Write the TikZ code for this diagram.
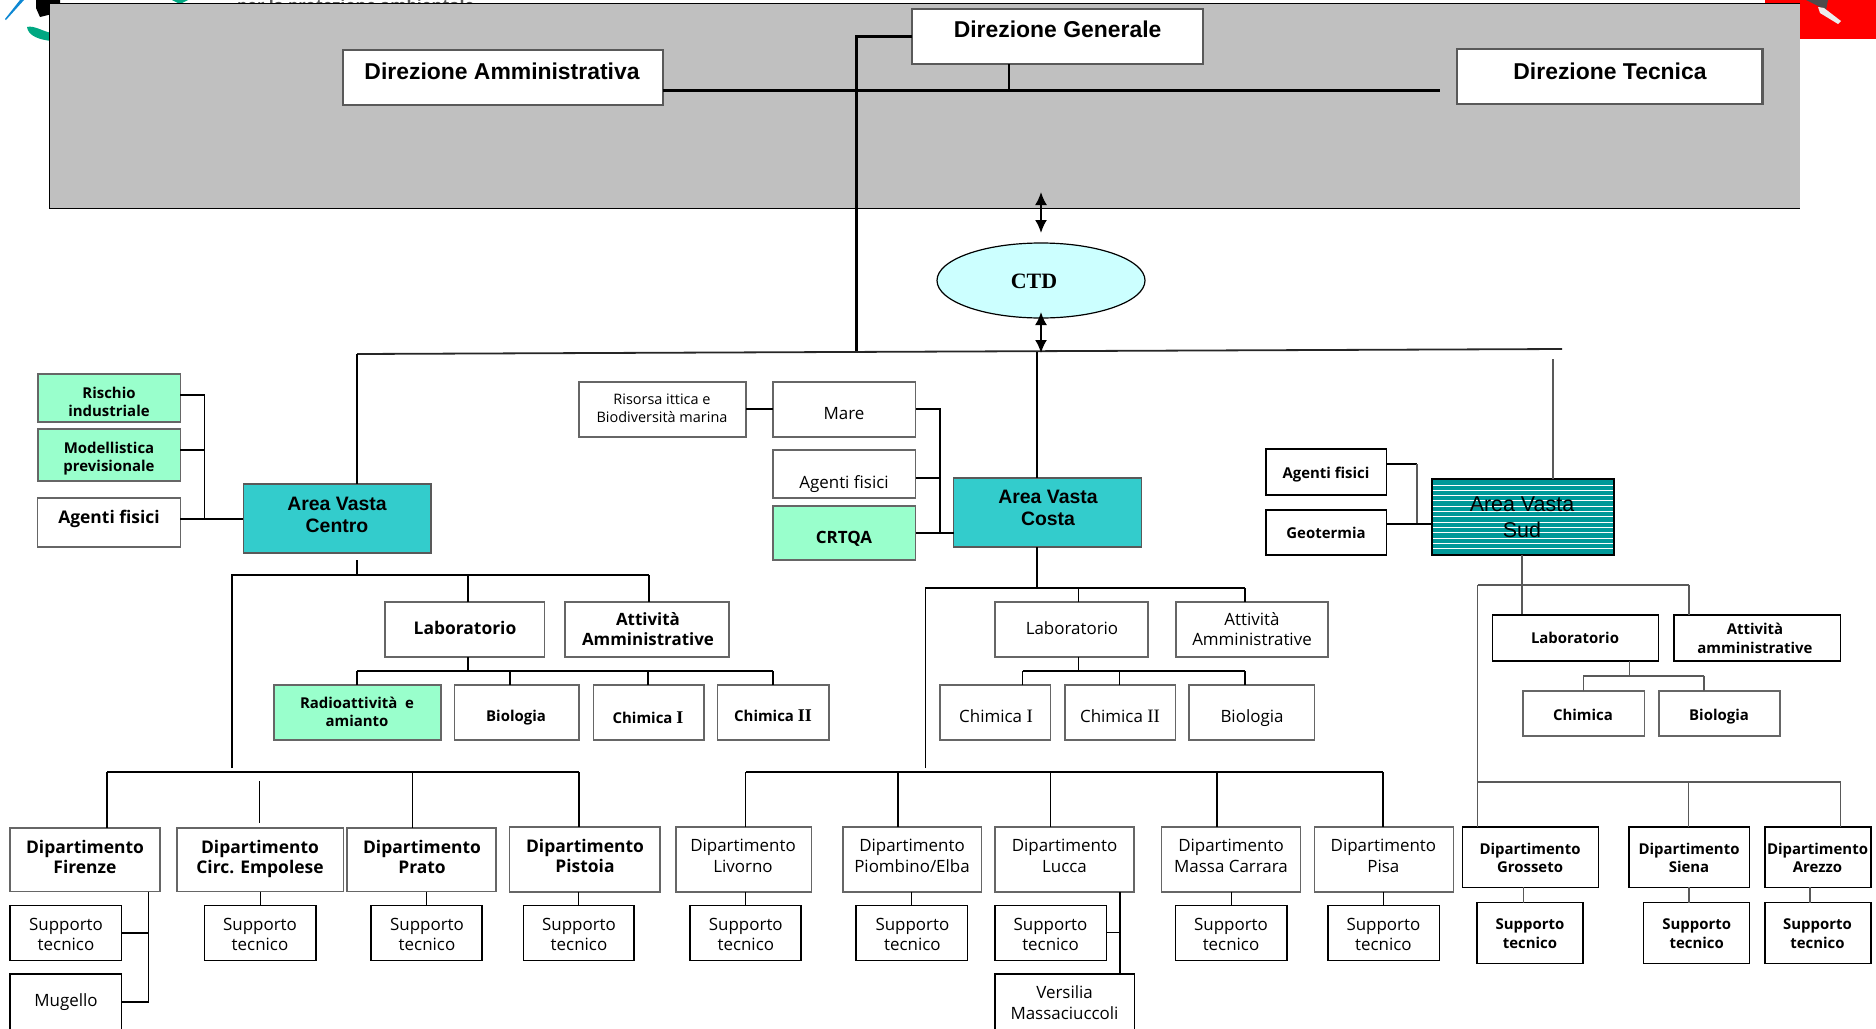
\documentclass[tikz,border=0pt]{standalone}
\usepackage{fontspec}
\usetikzlibrary{arrows.meta,shapes.geometric}
\setmainfont{Open Sans}
\newfontfamily\arfont{Liberation Sans}
\newfontfamily\sefont{Liberation Serif}
\newcommand\Fz[2]{\fontsize{#1}{#2}\selectfont}
\newcommand\Cells[1]{\raisebox{\dimexpr-0.58em+0.2\baselineskip\relax}{\begin{tabular}[c]{@{}c@{}}#1\end{tabular}}}
\newcommand\Tb[3]{{\Fz{#1}{#2}\bfseries\Cells{#3}}}
\newcommand\Tr[3]{{\Fz{#1}{#2}\mdseries\Cells{#3}}}
\newcommand\Ab[3]{{\arfont\Fz{#1}{#2}\bfseries\Cells{#3}}}
\newcommand\Ar[3]{{\arfont\Fz{#1}{#2}\mdseries\Cells{#3}}}
% \bx{name}{x1}{y1}{x2}{y2}{style}{text x}{text y}{text}
\newcommand\bx[9]{%
  \pgfmathsetmacro\bxdx{2*(#7-(#2+#4)/2)}%
  \pgfmathsetmacro\bxdy{(#3+#5)/2-#8}%
  \node[#6,minimum width={(#4-#2)*1bp},minimum height={(#5-#3)*1bp}] (#1) at ({(#2+#4)/2},{(#3+#5)/2})
  {\raisebox{\bxdy bp}[0pt][0pt]{\makebox[0pt]{\hspace*{\bxdx bp}#9}}};%
}
\definecolor{bord}{HTML}{666666}
\definecolor{bordd}{HTML}{595959}
\definecolor{green1}{HTML}{99FFCC}
\definecolor{teal1}{HTML}{33CCCC}
\definecolor{teal2}{HTML}{009999}
\definecolor{panel}{HTML}{C0C0C0}
\definecolor{ctdc}{HTML}{CCFFFF}
\tikzset{
  base/.style={inner sep=0pt,outer sep=0pt,text=black},
  topbox/.style={base,draw=bordd,line width=2.6bp,fill=white},
  gbox/.style={base,draw=bord,line width=1.3bp,fill=white},
  gfill/.style={base,draw=bord,line width=1.5bp,fill=green1},
  kbox/.style={base,draw=black,line width=1.2bp,fill=white},
  area/.style={base,draw=bordd,line width=1.8bp,fill=teal1},
  cn/.style={draw=black,line width=1.3bp},
  cnt/.style={draw=black,line width=3bp},
  cnm/.style={draw=black,line width=1.8bp},
  cng/.style={draw=bordd,line width=1.1bp},
  cngb/.style={draw=bordd,line width=1.6bp},
  arr/.style={draw=black,line width=2bp,{Latex[length=13bp,width=12bp]}-{Latex[length=13bp,width=12bp]}},
}
\begin{document}
\begin{tikzpicture}[x=1bp,y=-1bp]
\useasboundingbox (0,0) rectangle (1876,1028);
\clip (0,0) rectangle (1876,1028);
% cropped logos behind the panel
\fill[red] (1765,0) rectangle (1876,39);
\fill[black!70] (1806,0) -- (1828,0) -- (1826,10) -- (1816,5) -- cycle;
\fill[white!85!gray] (1818,7) -- (1824,8) -- (1841,21) -- (1838,24) -- (1820,13) -- cycle;
\fill[cyan!70!blue] (20,0) -- (24,0) -- (6,20) -- (5,19) -- cycle;
\fill[black] (36,0) -- (60,0) -- (60,12) -- (40,17) -- (36,8) -- cycle;
\fill[teal2!85!green] (27,27) .. controls (34,25) and (44,32) .. (52,33) -- (52,41) .. controls (40,40) and (28,36) .. (27,27) -- cycle;
\fill[teal2!85!green] (172,0) -- (188,0) -- (180,4) -- cycle;
\node[base,anchor=base west,text=bordd,inner sep=0pt] (logotext) at (237,11) {\Fz{16.5}{18}\bfseries per la protezione ambientale};
% grey panel
\node[base,fill=panel,minimum width=1750bp,minimum height=204.7bp] (pan) at (925,105.7) {};
\draw[draw=black,line width=1bp] (pan.north east) -- (pan.north west) -- (pan.south west) -- (pan.south east);
% direzione
\bx{da}{343}{50}{663}{105}{topbox}{502}{72}{\Ab{23}{26}{Direzione Amministrativa}}
\bx{dg}{912}{9}{1203}{64}{topbox}{1057.6}{30}{\Ab{23}{26}{Direzione Generale}}
\bx{dt}{1457}{49}{1762.5}{104}{topbox}{1610}{72}{\Ab{23}{26}{Direzione Tecnica}}
\coordinate (hbusr) at (1440,90.7);
\coordinate (dgj) at (1008.6,90.7);
\coordinate (dgl) at (856,36);
\coordinate (topj) at (856,352);
\draw[cnt] (da.east |- hbusr) -- (hbusr);
\draw[cnm] (dgj) -- (dgj |- dg.south);
\draw[cnt] (dg.west |- dgl) -- (dgl) -- (topj);
% CTD
\node[ellipse,draw=black,line width=1.2bp,fill=ctdc,inner sep=0pt,outer sep=0pt,minimum width=208bp,minimum height=75bp] (ctd) at (1041,280.5) {\raisebox{-8bp}[0pt][0pt]{\makebox[0pt]{\hspace*{-14bp}\sefont\Fz{22}{24}\bfseries CTD}}};
\coordinate (a1) at (1041,192);
\coordinate (a2) at (1041,233);
\coordinate (a3) at (1041,312);
\coordinate (a4) at (1041,353);
\draw[arr] (a1) -- (a2);
% main bus
\coordinate (busL) at (357,354);
\coordinate (busR) at (1562,349);
\coordinate (cj) at (1037,352);
\coordinate (sj) at (1553,359);
\draw[cnm,draw=black!85] (busL) -- (busR);
\draw[arr] (a3) -- (a4);
% Area Vasta Centro
\bx{avc}{243.4}{484}{431}{553}{area}{337}{515}{\Ab{19.5}{22}{Area Vasta\\Centro}}
\bx{ri}{37.8}{374}{180.4}{422}{gfill}{109}{402}{\Tb{15}{18}{Rischio\\industriale}}
\bx{mo}{37.8}{429}{180.4}{481}{gfill}{109}{457}{\Tb{15}{18}{Modellistica\\previsionale}}
\bx{af}{37.8}{498}{180.4}{547}{gbox}{109}{518}{\Tb{17.5}{20}{Agenti fisici}}
\draw[cn] (busL) -- (busL |- avc.north);
\coordinate (cvl) at (204.4,395);
\coordinate (cvm) at (204.4,450);
\coordinate (cvb) at (204.4,519);
\draw[cn] (ri.east |- cvl) -- (cvl) -- (cvb);
\draw[cn] (mo.east |- cvm) -- (cvm);
\draw[cn] (af.east |- cvb) -- (avc.west |- cvb);
% Centro tree
\coordinate (t1) at (357,560);
\coordinate (t2) at (357,575);
\coordinate (t3) at (232,575);
\coordinate (t4) at (232,768);
\coordinate (t5) at (649,575);
\coordinate (t6) at (468,575);
\draw[cn] (t1) -- (t2);
\draw[cn] (t4) -- (t3) -- (t5);
\bx{lc}{385}{602}{544.5}{657}{gbox}{465}{629}{\Tb{17.5}{20}{Laboratorio}}
\bx{ac}{565}{602}{729}{657}{gbox}{648}{630}{\Tb{17}{20}{Attività\\Amministrative}}
\draw[cn] (t6) -- (t6 |- lc.north);
\draw[cn] (t5) -- (t5 |- ac.north);
\coordinate (l1) at (468,671);
\coordinate (l2) at (357,671);
\coordinate (l3) at (510,671);
\coordinate (l4) at (648,671);
\coordinate (l5) at (773,671);
\draw[cn] (l1 |- lc.south) -- (l1);
\draw[cn] (l2) -- (l5);
\bx{rc}{274}{685}{441}{740}{gfill}{357}{712}{\Tb{15}{18}{Radioattività~ e\\amianto}}
\bx{bc}{454.4}{685}{579}{740}{gbox}{516}{716}{\Tb{15}{18}{Biologia}}
\bx{c1}{593.5}{685}{704}{740}{gbox}{648}{718}{\Tb{15}{18}{Chimica {\sefont\fontsize{18}{18}\selectfont I}}}
\bx{c2}{717.6}{685}{829}{740}{gbox}{773}{716}{\Tb{15}{18}{Chimica {\sefont\fontsize{18}{18}\selectfont II}}}
\draw[cn] (l2) -- (l2 |- rc.north);
\draw[cn] (l3) -- (l3 |- bc.north);
\draw[cn] (l4) -- (l4 |- c1.north);
\draw[cn] (l5) -- (l5 |- c2.north);
% Costa side boxes
\bx{ri2}{579}{382}{746}{437}{gbox}{662}{409}{\Tr{14.5}{18}{Risorsa ittica e\\Biodiversità marina}}
\bx{ma}{773}{382}{915.5}{437}{gbox}{844}{414}{\Tr{17}{20}{Mare}}
\bx{af2}{773}{450}{915.5}{498}{gbox}{844}{483}{\Tr{17}{20}{Agenti fisici}}
\bx{cr}{773}{506}{915.5}{560}{gfill}{844}{538}{\Tb{17}{20}{CRTQA}}
\bx{avo}{953.5}{478}{1141.5}{547}{area}{1048}{508}{\Ab{19.5}{22}{Area Vasta\\Costa}}
\draw[cn] (cj) -- (cj |- avo.north);
\coordinate (mv1) at (940,409);
\coordinate (mv2) at (940,478);
\coordinate (mv3) at (940,533);
\draw[cn] (ri2.east |- mv1) -- (ma.west |- mv1);
\draw[cn] (ma.east |- mv1) -- (mv1) -- (mv3);
\draw[cn] (af2.east |- mv2) -- (mv2);
\draw[cn] (cr.east |- mv3) -- (avo.west |- mv3);
% Costa tree
\coordinate (o1) at (1037,588);
\coordinate (o2) at (925.5,588);
\coordinate (o3) at (925.5,768);
\coordinate (o4) at (1245,588);
\coordinate (o5) at (1078.6,588);
\draw[cn] (o1 |- avo.south) -- (o1);
\draw[cn] (o3) -- (o2) -- (o4);
\bx{lo}{995}{602}{1148}{657}{gbox}{1072}{629}{\Tr{17}{20}{Laboratorio}}
\bx{ao}{1176}{602}{1328}{657}{gbox}{1252}{630}{\Tr{17}{20}{Attività\\Amministrative}}
\draw[cn] (o5) -- (o5 |- lo.north);
\draw[cn] (o4) -- (o4 |- ao.north);
\coordinate (p1) at (1078.6,671);
\coordinate (p2) at (1022.6,671);
\coordinate (p3) at (1119.7,671);
\coordinate (p4) at (1245,671);
\draw[cn] (p1 |- lo.south) -- (p1);
\draw[cn] (p2) -- (p4);
\bx{o1b}{940}{685}{1050.6}{740}{gbox}{996}{717}{\Tr{17}{20}{Chimica {\sefont\fontsize{19}{20}\selectfont I}}}
\bx{o2b}{1065}{685}{1175.7}{740}{gbox}{1120}{717}{\Tr{17}{20}{Chimica {\sefont\fontsize{19}{20}\selectfont II}}}
\bx{o3b}{1189}{685}{1314.5}{740}{gbox}{1252}{717}{\Tr{17}{20}{Biologia}}
\draw[cn] (p2) -- (p2 |- o1b.north);
\draw[cn] (p3) -- (p3 |- o2b.north);
\draw[cn] (p4) -- (p4 |- o3b.north);
% Sud side
\bx{af3}{1266}{449}{1386.7}{495}{kbox}{1326}{473}{\Tb{15}{18}{Agenti fisici}}
\bx{ge}{1266}{510}{1386.7}{555}{kbox}{1326}{533}{\Tb{15}{18}{Geotermia}}
\bx{avs}{1432}{479}{1614}{555}{base,draw=black,line width=2.8bp,fill=teal2,path picture={\foreach \yy in {-32,-26.7,-21.4,-16.1,-10.8,-5.5,-0.2,5.1,10.4,15.7,21,26.3,31.6}{\draw[white,line width=1bp] (path picture bounding box.west) ++(0,\yy) -- ++(200,0);}}}{1522}{517}{\Ar{21.5}{26}{Area Vasta\\Sud}}
\draw[cng] (sj) -- (sj |- avs.north);
\coordinate (gv1) at (1417,464);
\coordinate (gv2) at (1417,524);
\draw[cnm] (af3.east |- gv1) -- (gv1);
\draw[cng] (gv1) -- (gv2);
\draw[cnm] (ge.east |- gv2) -- (avs.west |- gv2);
% Sud tree
\coordinate (s1) at (1522,585);
\coordinate (s2) at (1477.5,585);
\coordinate (s3) at (1689,585);
\draw[cng] (s1 |- avs.south) -- (1522,615);
\draw[cngb] (s2) -- (s3);
\bx{ls}{1492.5}{615}{1658.7}{661}{kbox}{1575}{638}{\Tb{15}{18}{Laboratorio}}
\bx{as}{1674}{615}{1840.4}{661}{kbox}{1755}{639}{\Tb{15}{19}{Attività\\amministrative}}
\draw[cng] (s3) -- (s3 |- as.north);
\coordinate (u1) at (1629.4,675.7);
\coordinate (u2) at (1583.4,675.7);
\coordinate (u3) at (1704,675.7);
\draw[cng] (u1 |- ls.south) -- (u1);
\draw[cngb] (u2) -- (u3);
\bx{cs}{1523}{691}{1644.4}{736}{gbox}{1583}{715}{\Tb{15}{18}{Chimica}}
\bx{bs}{1659}{691}{1780}{736}{gbox}{1719}{715}{\Tb{15}{18}{Biologia}}
\draw[cng] (u2) -- (u2 |- cs.north);
\draw[cng] (u3) -- (u3 |- bs.north);
% Centro departments
\coordinate (d0) at (107,772.3);
\coordinate (d1) at (412.5,772.3);
\coordinate (d2) at (579,772.3);
\coordinate (d3a) at (259.6,781);
\coordinate (d3b) at (259.6,822.7);
\draw[cnm] (d0) -- (d2);
\draw[cn] (d3a) -- (d3b);
\bx{df}{10}{828}{160}{891.7}{gbox}{85}{858}{\Tb{17.5}{20}{Dipartimento\\Firenze}}
\bx{de}{177}{828}{343.5}{891.7}{gbox}{260}{858}{\Tb{17.5}{20}{Dipartimento\\Circ. Empolese}}
\bx{dp}{347}{828}{496}{891.7}{gbox}{422}{858}{\Tb{17.5}{20}{Dipartimento\\Prato}}
\bx{dz}{509.6}{827}{660}{892}{gbox}{585}{857}{\Tb{17.5}{20}{Dipartimento\\Pistoia}}
\draw[cn] (d0) -- (d0 |- df.north);
\draw[cn] (d1) -- (d1 |- dp.north);
\draw[cn] (d2) -- (d2 |- dz.north);
% Costa departments
\coordinate (e0) at (745.8,772.3);
\coordinate (e1) at (898,772.3);
\coordinate (e2) at (1050.5,772.3);
\coordinate (e3) at (1217,772.3);
\coordinate (e4) at (1383,772.3);
\draw[cnm] (e0) -- (e4);
\bx{el}{676}{827}{811.7}{892}{gbox}{743}{856.5}{\Tr{17}{20.5}{Dipartimento\\Livorno}}
\bx{ep}{843}{827}{981.6}{892}{gbox}{912}{856.5}{\Tr{17}{20.5}{Dipartimento\\Piombino/Elba}}
\bx{eu}{995}{827}{1134}{892}{gbox}{1064.5}{856.5}{\Tr{17}{20.5}{Dipartimento\\Lucca}}
\bx{em}{1161.4}{827}{1300.4}{892}{gbox}{1231}{856.5}{\Tr{17}{20.5}{Dipartimento\\Massa Carrara}}
\bx{ei}{1314.5}{827}{1453.5}{892}{gbox}{1383.4}{856.5}{\Tr{17}{20.5}{Dipartimento\\Pisa}}
\draw[cn] (e0) -- (e0 |- el.north);
\draw[cn] (e1) -- (e1 |- ep.north);
\draw[cn] (e2) -- (e2 |- eu.north);
\draw[cn] (e3) -- (e3 |- em.north);
\draw[cn] (e4) -- (e4 |- ei.north);
% Sud departments
\coordinate (g0) at (1477.5,781.7);
\coordinate (g1) at (1688.9,781.7);
\coordinate (g2) at (1840.6,781.7);
\draw[cngb] (g0) -- (g2);
\bx{gg}{1462.6}{827}{1598.6}{887.3}{kbox}{1530}{858.3}{\Tb{15}{18.7}{Dipartimento\\Grosseto}}
\bx{gs}{1629}{827}{1749.8}{887.3}{kbox}{1689}{858.3}{\Tb{15}{18.7}{Dipartimento\\Siena}}
\bx{ga}{1765}{827}{1871}{887.3}{kbox}{1817.5}{858.3}{\Tb{15}{18.7}{Dipartimento\\Arezzo}}
\draw[cng] (s2) -- (s2 |- gg.north);
\draw[cng] (g1) -- (g1 |- gs.north);
\draw[cng] (g2) -- (g2 |- ga.north);
% Supporto row
\bx{sf}{10}{905.7}{121.7}{960.7}{kbox}{66}{935}{\Tr{17}{20}{Supporto\\tecnico}}
\bx{mu}{10}{974}{121.7}{1040}{kbox}{66}{1001}{\Tr{17}{20}{Mugello}}
\bx{se}{204.4}{905.7}{316}{960.7}{kbox}{260}{935}{\Tr{17}{20}{Supporto\\tecnico}}
\bx{sp}{371}{905.7}{482}{960.7}{kbox}{427}{935}{\Tr{17}{20}{Supporto\\tecnico}}
\bx{sz}{523.4}{905.7}{634}{960.7}{kbox}{579}{935}{\Tr{17}{20}{Supporto\\tecnico}}
\bx{sl}{690}{905.7}{801}{960.7}{kbox}{745.8}{935}{\Tr{17}{20}{Supporto\\tecnico}}
\bx{si}{856}{905.7}{967.6}{960.7}{kbox}{912.4}{935}{\Tr{17}{20}{Supporto\\tecnico}}
\bx{su}{995}{905.7}{1106.6}{960.7}{kbox}{1050.5}{935}{\Tr{17}{20}{Supporto\\tecnico}}
\bx{vm}{995}{974}{1134.6}{1040}{kbox}{1064.5}{1003.5}{\Tr{17}{21}{Versilia\\Massaciuccoli}}
\bx{sm}{1175.5}{905.7}{1287}{960.7}{kbox}{1231}{935}{\Tr{17}{20}{Supporto\\tecnico}}
\bx{sa}{1328}{905.7}{1439.5}{960.7}{kbox}{1383.4}{935}{\Tr{17}{20}{Supporto\\tecnico}}
\bx{sg}{1477}{902.7}{1583}{963.3}{kbox}{1530}{934}{\Tb{15}{19.7}{Supporto\\tecnico}}
\bx{sn}{1643.7}{902.7}{1749.8}{963.3}{kbox}{1696.7}{934}{\Tb{15}{19.7}{Supporto\\tecnico}}
\bx{sr}{1765}{902.7}{1871}{963.3}{kbox}{1817.5}{934}{\Tb{15}{19.7}{Supporto\\tecnico}}
% department to support connectors
\coordinate (f1) at (148.7,932.7);
\coordinate (f2) at (148.7,1002);
\draw[cn] (f1 |- df.south) -- (f2);
\draw[cnm] (sf.east |- f1) -- (f1);
\draw[cnm] (mu.east |- f2) -- (f2);
\draw[cn] (de.south -| se.north) -- (se.north);
\draw[cn] (dp.south -| sp.north) -- (sp.north);
\draw[cn] (dz.south -| sz.north) -- (sz.north);
\draw[cn] (el.south -| sl.north) -- (sl.north);
\draw[cn] (ep.south -| si.north) -- (si.north);
\coordinate (v1) at (1120,932.7);
\draw[cn] (v1 |- eu.south) -- (v1 |- vm.north);
\draw[cn] (su.east |- v1) -- (v1);
\draw[cn] (em.south -| sm.north) -- (sm.north);
\draw[cn] (ei.south -| sa.north) -- (sa.north);
\coordinate (w1) at (1523.6,895);
\coordinate (w2) at (1689,895);
\coordinate (w3) at (1810,895);
\draw[cng] (w1 |- gg.south) -- (w1 |- sg.north);
\draw[cng] (w2 |- gs.south) -- (w2 |- sn.north);
\draw[cng] (w3 |- ga.south) -- (w3 |- sr.north);
\end{tikzpicture}
\end{document}
